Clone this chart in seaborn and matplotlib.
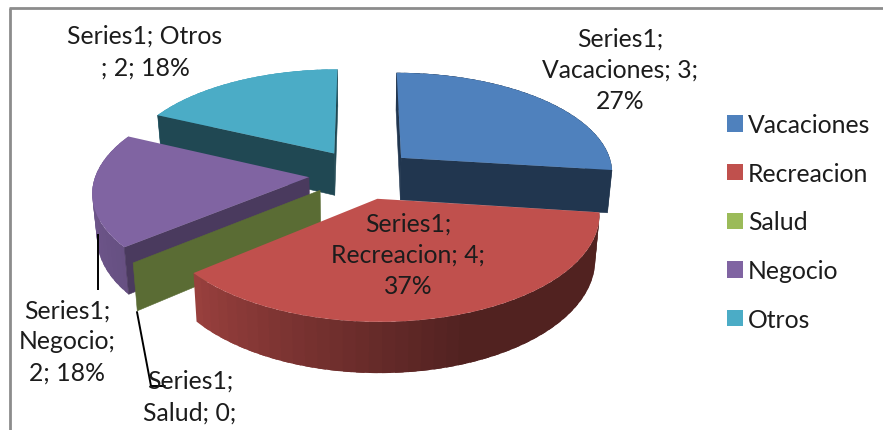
import matplotlib
matplotlib.use("Agg")
import matplotlib.pyplot as plt
import matplotlib.colors as mcolors
import numpy as np
import seaborn as sns
from matplotlib.transforms import Transform

# datos
categorias = ["Vacaciones", "Recreacion", "Salud", "Negocio", "Otros"]
porcentajes = [27, 37, 0, 18, 18]
cantidades = [3, 4, 0, 2, 2]
colores = ["#4f81bd", "#c0504d", "#9bbb59", "#8064a2", "#4bacc6"]
sombra_pared = [0.42, 0.42, 0.58, 0.58, 0.42]

# camara de la torta 3D (pixeles)
CX, CY = 362, 175
FX, FY = 213, 100
PERSP = 0.13
ALTO = 43
SEPARACION = 0.25

sns.set_theme(style="white")
plt.rcParams["font.family"] = ["Lato", "DejaVu Sans"]
TEXTO = "#1c1c1c"
FS = 17.8


def proyectar(x, y, z=0.0):
    w = 1 + PERSP * y
    return CX + FX * x / w * (1 - 0.018 * z), CY - FY * y / w + ALTO * z / w


class Camara(Transform):
    input_dims = 2
    output_dims = 2
    has_inverse = False

    def transform_non_affine(self, values):
        values = np.asarray(values)
        return np.column_stack(proyectar(values[:, 0], values[:, 1]))


def sombra_lateral(theta):
    return np.interp(theta, [-210, -140, -70, 0], [0.95, 0.8, 0.42, 0.42])


def oscurecer(color, factor):
    return tuple(c * factor for c in mcolors.to_rgb(color))


def dibujar_lados(ax, cuna, color, sombra, orden):
    x0, y0 = cuna.center
    # pared curva exterior, por bandas solapadas para que no se vean costuras
    if cuna.theta2 > cuna.theta1:
        pasos = np.arange(cuna.theta1, cuna.theta2, 3.0)
        for a in pasos:
            b = min(a + 5.0, cuna.theta2)
            ang = np.radians(np.linspace(a, b, 5))
            xs = x0 + np.cos(ang)
            ys = y0 + np.sin(ang)
            arr = proyectar(xs, ys, 0.0)
            aba = proyectar(xs, ys, 1.0)
            c = oscurecer(color, sombra_lateral(a + 1.5))
            ax.fill(np.r_[arr[0], aba[0][::-1]], np.r_[arr[1], aba[1][::-1]],
                    facecolor=c, edgecolor="none", zorder=orden)
    # paredes rectas que miran al frente
    for theta, normal in ((cuna.theta1, cuna.theta1 - 90), (cuna.theta2, cuna.theta2 + 90)):
        if np.sin(np.radians(normal)) > 0.05:
            continue
        ang = np.radians(theta)
        xs = np.array([x0, x0 + np.cos(ang)])
        ys = np.array([y0, y0 + np.sin(ang)])
        arr = proyectar(xs, ys, 0.0)
        aba = proyectar(xs, ys, 1.0)
        c = oscurecer(color, sombra)
        ax.fill(np.r_[arr[0], aba[0][::-1]], np.r_[arr[1], aba[1][::-1]],
                facecolor=c, edgecolor=c, linewidth=0.4, zorder=orden + 0.1)


fig = plt.figure(figsize=(8.83, 4.31), dpi=100)
ax = fig.add_axes([0, 0, 1, 1])

cunas, _ = ax.pie(
    porcentajes,
    colors=colores,
    startangle=90,
    counterclock=False,
    explode=[SEPARACION] * len(porcentajes),
    normalize=True,
)
ax.set_aspect("auto")
ax.set_xlim(0, 883)
ax.set_ylim(431, 0)

# de atras hacia adelante
for n, i in enumerate(sorted(range(len(cunas)), key=lambda k: -cunas[k].center[1])):
    orden = 2 + n
    dibujar_lados(ax, cunas[i], colores[i], sombra_pared[i], orden)
    cunas[i].set_transform(Camara() + ax.transData)
    cunas[i].set_zorder(orden + 0.5)
    cunas[i].set_linewidth(0)

# marco del grafico
ax.plot([9.5, 9.5], [431, 9], color="#8c8c8c", lw=2, zorder=1, solid_capstyle="butt")
ax.plot([8.5, 883], [9, 9], color="#8c8c8c", lw=2, zorder=1, solid_capstyle="butt")

# lineas guia
ax.plot([98, 98], [235, 291], color="black", lw=1.4, zorder=10, solid_capstyle="butt")
ax.plot([137, 151, 165], [313, 387, 387], color="black", lw=1.4, zorder=10)

etiquetas = [
    (620, 70, f"Series1;\n{categorias[0]}; {cantidades[0]};\n{porcentajes[0]}%"),
    (408, 255, f"Series1;\n{categorias[1]}; {cantidades[1]};\n{porcentajes[1]}%"),
    (190, 397, f"Series1;\n{categorias[2]}; {cantidades[2]};"),
    (67, 342, f"Series1;\n{categorias[3]};\n{cantidades[3]}; {porcentajes[3]}%"),
    (145, 52, f"Series1; {categorias[4]}\n; {cantidades[4]}; {porcentajes[4]}%"),
]
for x, y, texto in etiquetas:
    ax.text(x, y, texto, ha="center", va="center", fontsize=FS, color=TEXTO,
            linespacing=1.44, zorder=11)

ax.legend(
    cunas,
    categorias,
    loc="center left",
    bbox_to_anchor=(727 / 883, 1 - 223 / 431),
    frameon=False,
    fontsize=FS,
    handlelength=0.65,
    handleheight=0.65,
    handletextpad=0.2,
    labelspacing=1.04,
    labelcolor=TEXTO,
    borderpad=0,
    borderaxespad=0,
)

fig.savefig("out.png", dpi=100)
